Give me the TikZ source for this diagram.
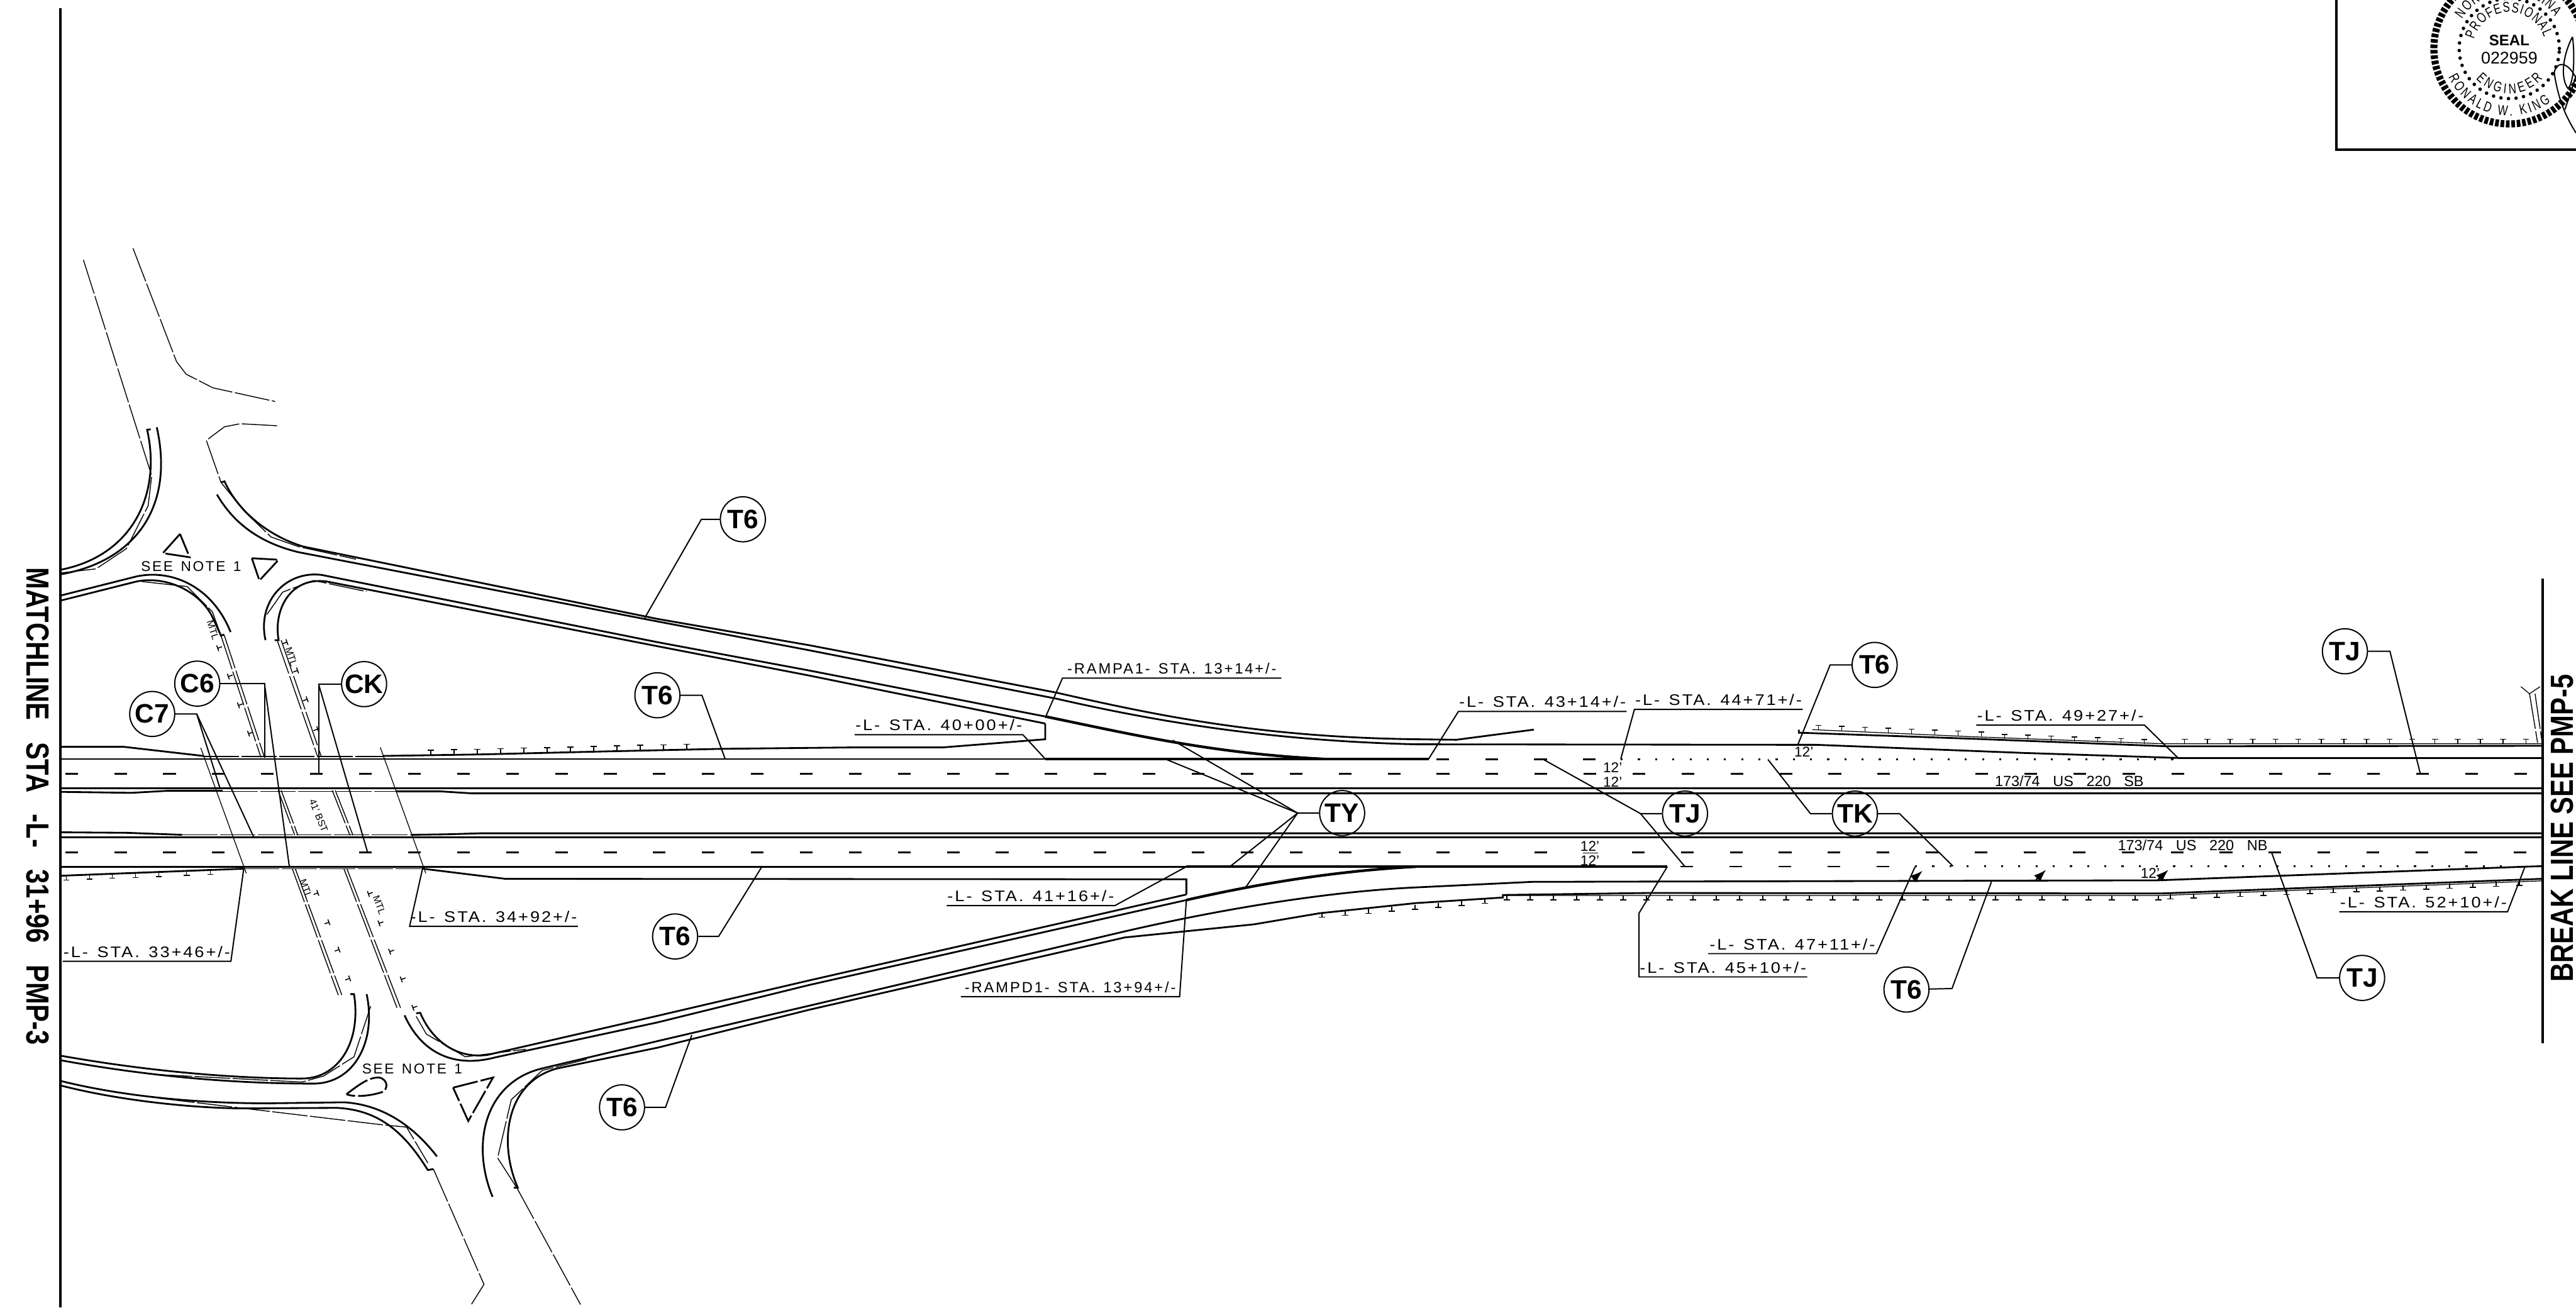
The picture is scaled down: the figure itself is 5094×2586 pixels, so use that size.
\documentclass[tikz,border=0pt]{standalone}
\usepackage{fontspec}
\usetikzlibrary{decorations.text,arrows.meta}
\setmainfont{Liberation Sans}
\newfontfamily\cadfont[LetterSpace=12,FakeStretch=1.12]{Liberation Sans}
\newfontfamily\rampfont[LetterSpace=12]{Liberation Sans}
\newfontfamily\sheetfont[FakeStretch=0.82]{Liberation Sans}
\newfontfamily\sealfont[FakeStretch=0.75]{Liberation Sans}
\newcommand{\cadgap}{\hspace{0.6em}}
\newcommand{\rampgap}{\hspace{0.55em}}
% one guard rail mark: x, y, angle
\newcommand{\railmark}[3]{\begin{scope}[shift={(#1,{#2})},rotate=#3]
  \draw[railstem] (0,0) -- (0,-9) (-6,-9) -- (6,-9);
\end{scope}}
\tikzset{
  roadedge/.style={line width=1pt},
  heavyedge/.style={line width=1.5pt},
  thinroad/.style={line width=0.5pt,dash pattern=on 0.7cm off 0.05cm},
  lanedash/.style={line width=0.9pt,dash pattern=on 0.25cm off 0.718cm},
  lanedots/.style={line width=0.9pt,dash pattern=on 0.04cm off 0.3cm},
  leader/.style={line width=0.7pt},
  railstem/.style={line width=0.55pt},
  crossline/.style={line width=0.45pt},
  bubble/.style={circle,draw,line width=0.7pt,minimum size=0.89cm,inner sep=0pt,font=\fontsize{15}{15}\selectfont\bfseries},
  stalabel/.style={anchor=south west,inner xsep=0pt,inner ysep=2pt,minimum width=3.31cm,font=\cadfont\fontsize{8.6}{8.6}\selectfont},
  ramplabel/.style={stalabel,minimum width=4.31cm,font=\rampfont\fontsize{8.4}{8.4}\selectfont},
  dimtext/.style={inner sep=0pt,font=\fontsize{8}{8}\selectfont},
  roadname/.style={inner sep=0pt,font=\fontsize{8.3}{8.3}\selectfont},
  mtltext/.style={inner sep=0pt,font=\fontsize{5.5}{5.5}\selectfont},
  notetext/.style={inner sep=0pt,font=\rampfont\fontsize{8}{8}\selectfont},
  sheettext/.style={inner sep=0pt,font=\sheetfont\fontsize{18}{18}\selectfont\bfseries},
  sealtext/.style={decorate,decoration={text along path,text align={fit to path},text={|\sealfont\fontsize{8}{8}\selectfont|#1}}},
  islandedge/.style={line width=1pt,dash pattern=on 0.5cm off 0.06cm},
}
\begin{document}
\begin{tikzpicture}[x=0.01cm,y=-0.01cm]
\useasboundingbox (0,0) rectangle (5094,2586);

% sheet frame
\draw[line width=1.3pt] (119,16) -- (119,2586);
\draw[line width=1.3pt] (5028,1144) -- (5028,2063);
\draw[line width=1.3pt] (4620,0) -- (4620,296) -- (5094,296);
\node[sheettext,rotate=-90] (matchline) at (74,1595) {MATCHLINE\hspace{0.45em} STA\hspace{0.45em} -L-\hspace{0.45em} 31+96\hspace{0.45em} PMP-3};
\node[sheettext,rotate=90] (breakline) at (5067,1638) {BREAK LINE SEE PMP-5};

% seal
\coordinate (sealc) at (4962,96);
\draw[line width=0.14cm,dash pattern=on 0.072cm off 0.035cm] (sealc) circle[radius=1.49cm];
\draw[line width=0.07cm,line cap=round,dash pattern=on 0pt off 0.15cm] (sealc) circle[radius=0.99cm];
\node[inner sep=0pt,font=\fontsize{8.5}{8.5}\selectfont\bfseries] (sealword) at (4962,80) {SEAL};
\node[inner sep=0pt,font=\fontsize{9.5}{9.5}\selectfont] (sealno) at (4962,115) {022959};
\path[sealtext={PROFESSIONAL}] (sealc) ++(165:0.72cm) arc[start angle=165,end angle=18,radius=0.72cm];
\path[sealtext={ENGINEER}] (sealc) ++(222:0.89cm) arc[start angle=222,end angle=318,radius=0.89cm];
\path[sealtext={RONALD W. KING}] (sealc) ++(205:1.33cm) arc[start angle=205,end angle=308,radius=1.33cm];
\path[sealtext={NORTH CAROLINA}] (sealc) ++(148:1.1cm) arc[start angle=148,end angle=35,radius=1.1cm];
% signature
\draw[leader] (5087,73) .. controls (5072,100) and (5060,150) .. (5078,175) .. controls (5090,165) and (5092,110) .. (5087,73);
\draw[leader] (5094,263) .. controls (5070,225) and (5058,190) .. (5051,145) .. controls (5052,125) and (5075,115) .. (5094,155);
\draw[leader] (5072,217) -- (5094,150);

% mainline
\draw[roadedge] (119,1501) -- (2067,1501);
\draw[heavyedge] (2067,1501) -- (2825,1501);
\draw[roadedge] (4307,1499) -- (5028,1499);
\draw[roadedge] (119,1714) -- (2346,1714);
\draw[heavyedge] (2346,1714) -- (3297,1714);
\draw[roadedge] (119,1559) -- (5028,1559);
\draw[roadedge] (119,1656) -- (5028,1656);
\draw[roadedge] (119,1566) -- (260,1568) -- (330,1564) -- (440,1564);
\draw[thinroad] (440,1565) -- (783,1565);
\draw[roadedge] (783,1565) -- (870,1565) -- (933,1569) -- (5028,1569);
\draw[roadedge] (119,1646) -- (250,1647) -- (360,1651);
\draw[thinroad] (360,1651) -- (813,1651);
\draw[roadedge] (813,1651) -- (883,1650) -- (950,1648) -- (5028,1648);
\draw[lanedash] (129,1530) -- (5000,1530);
\draw[lanedash] (129,1686) -- (3120,1686);
\draw[lanedash] (3227,1686) -- (5000,1686);
\draw[lanedash] (2840,1502) -- (3160,1502);
\draw[lanedash] (3323,1714) -- (3740,1714);
\draw[lanedots] (3205,1502) -- (4300,1502);
\draw[lanedots] (3787,1713) -- (4950,1713);

% shoulders
\draw[roadedge] (119,1477) -- (245,1477) -- (402,1495);
\draw[thinroad] (402,1496) -- (758,1496);
\draw[roadedge] (758,1495) -- (950,1492) -- (1200,1486) -- (1425,1481) -- (1700,1478) -- (1866,1478) -- (2067,1462) -- (2067,1431);
\draw[roadedge] (119,1732) -- (482,1718);
\draw[thinroad] (482,1718) -- (836,1718);
\draw[roadedge] (836,1718) -- (999,1738) -- (2346,1739) -- (2346,1769);
\foreach \x in {852,898,...,1360} {\railmark{\x}{1495-(\x-758)*0.0235}{0}}
\foreach \x in {131,177,222,268,314,369,416} {\railmark{\x}{1732-(\x-119)*0.0386}{180}}

% ramp a
\draw[thinroad] (263,491) -- (349,715) -- (368,740) -- (421,767) -- (544,794);
\draw[thinroad] (548,842) -- (475,838) -- (444,844) -- (408,871) -- (437,954) -- (483,1011) -- (536,1062) -- (590,1081) -- (704,1106);
\draw[roadedge] (437,954) -- (444,952) .. controls (470,1010) and (530,1060) .. (600,1081) -- (1300,1224) -- (1600,1276) -- (2090,1370) .. controls (2300,1418) and (2500,1458) .. (2800,1462) -- (2880,1463) -- (3033,1443);
\draw[roadedge] (429,978) .. controls (465,1040) and (520,1075) .. (590,1092) -- (1300,1229) -- (1600,1286) -- (2090,1382) .. controls (2300,1430) and (2520,1465) .. (2800,1472) -- (3592,1473) -- (4000,1489) -- (4307,1499);
\draw[roadedge] (525,1266) .. controls (508,1190) and (565,1128) .. (636,1137) -- (1300,1270) -- (1600,1326) -- (2067,1417);
\draw[heavyedge] (2067,1417) .. controls (2250,1455) and (2400,1490) .. (2618,1501);
\draw[roadedge] (543,1266) -- (551,1266) .. controls (540,1205) and (575,1140) .. (646,1150) -- (1300,1278) -- (1600,1336) -- (2067,1431);
\draw[thinroad] (528,1215) -- (559,1171) -- (620,1148) -- (725,1170);

% side road north
\draw[thinroad] (165,514) -- (300,941) -- (293,1000) -- (250,1085) -- (190,1125) -- (121,1133);
\draw[roadedge] (298,849) -- (291,850) .. controls (320,980) and (260,1100) .. (119,1127);
\draw[roadedge] (310,845) .. controls (345,1000) and (270,1110) .. (119,1136);
\draw[roadedge] (119,1178) -- (270,1140) .. controls (340,1125) and (420,1160) .. (456,1250);
\draw[roadedge] (119,1188) -- (270,1150) .. controls (330,1138) and (395,1170) .. (420,1220) -- (437,1257) -- (443,1255);
\draw[thinroad] (280,1150) -- (370,1160) -- (420,1210) -- (437,1257);
\draw[thinroad] (443,1255) -- (523,1498);
\draw[thinroad] (437,1257) -- (516,1498);
\draw[thinroad] (548,1266) -- (628,1496);
\draw[thinroad] (556,1266) -- (635,1495);
\draw[islandedge] (356,1056) -- (322,1094) -- (375,1102) -- cycle;
\draw[islandedge] (498,1104) -- (551,1107) -- (513,1148) -- cycle;
\node[notetext] (notenorth) at (378,1120) {SEE\rampgap NOTE\rampgap 1};
\railmark{439}{1279}{110}
\railmark{460}{1335}{110}
\railmark{480}{1392}{110}
\railmark{500}{1448}{110}
\railmark{559}{1273}{-70}
\railmark{580}{1329}{-70}
\railmark{599}{1386}{-70}
\railmark{620}{1445}{-70}
\node[mtltext,rotate=-72] (mtlnw) at (421,1246) {MTL};
\node[mtltext,rotate=-72] (mtlne) at (576,1299) {MTL};

% median crossing
\draw[thinroad] (550,1563) -- (583,1652);
\draw[thinroad] (556,1563) -- (589,1652);
\draw[thinroad] (657,1563) -- (692,1652);
\draw[thinroad] (663,1563) -- (698,1652);
\node[mtltext,rotate=-68] (bstlabel) at (630,1613) {41' BST};
\draw[crossline] (397,1479) -- (487,1727);
\draw[crossline] (752,1478) -- (842,1727);

% side road south
\draw[thinroad] (578,1718) -- (669,1968);
\draw[thinroad] (584,1718) -- (676,1968);
\draw[thinroad] (680,1718) -- (785,1993);
\draw[thinroad] (686,1718) -- (792,1993);
\railmark{620}{1769}{-70}
\railmark{642}{1827}{-70}
\railmark{662}{1881}{-70}
\railmark{683}{1938}{-70}
\railmark{737}{1765}{110}
\railmark{758}{1823}{110}
\railmark{779}{1879}{110}
\railmark{802}{1934}{110}
\railmark{825}{1990}{110}
\node[mtltext,rotate=-70] (mtlsw) at (605,1758) {MTL};
\node[mtltext,rotate=-70] (mtlse) at (750,1790) {MTL};
\draw[roadedge] (693,1966) -- (700,1966) .. controls (715,2060) and (670,2133) .. (597,2133) .. controls (500,2133) and (330,2125) .. (121,2088);
\draw[roadedge] (725,1966) .. controls (745,2060) and (700,2143) .. (620,2143) .. controls (500,2143) and (330,2135) .. (121,2097);
\draw[roadedge] (121,2138) .. controls (250,2170) and (400,2182) .. (528,2182) -- (681,2180) .. controls (760,2185) and (820,2230) .. (864,2287);
\draw[roadedge] (121,2147) .. controls (250,2180) and (400,2192) .. (483,2192) -- (666,2191) .. controls (750,2195) and (800,2240) .. (846,2314) -- (857,2312);
\draw[thinroad] (315,2172) -- (483,2192) -- (760,2225) -- (804,2229) -- (846,2300);
\draw[thinroad] (310,2125) -- (597,2140) -- (640,2128) -- (700,2090) -- (733,1990);
\draw[thinroad] (857,2312) -- (957,2540) -- (932,2580);
\draw[thinroad] (1022,2349) -- (1148,2580);
\draw[islandedge] (685,2164) .. controls (710,2145) and (730,2130) .. (750,2131) .. controls (768,2135) and (768,2155) .. (755,2160) .. controls (730,2168) and (700,2170) .. (685,2164) -- cycle;
\draw[islandedge] (896,2151) -- (975,2131) -- (926,2217) -- cycle;
\node[notetext] (notesouth) at (815,2114) {SEE\rampgap NOTE\rampgap 1};

% ramp d
\draw[roadedge] (823,2004) -- (831,2003) .. controls (855,2060) and (905,2095) .. (965,2086) -- (1300,2009) -- (1600,1939) -- (2346,1769);
\draw[roadedge] (800,2008) .. controls (830,2075) and (890,2115) .. (980,2091) -- (1300,2022) -- (1600,1948) -- (2346,1780);
\draw[heavyedge] (2346,1780) .. controls (2500,1745) and (2650,1722) .. (2800,1714);
\draw[thinroad] (823,2010) -- (843,2045) -- (920,2090) -- (1040,2075);
\draw[roadedge] (974,2367) .. controls (930,2260) and (960,2140) .. (1072,2113) -- (1300,2059) -- (1600,1989) -- (2224,1842) .. controls (2450,1790) and (2650,1762) .. (2800,1755) -- (3030,1744) -- (4266,1741) -- (4993,1714) -- (5028,1713);
\draw[roadedge] (1016,2349) -- (1024,2349) .. controls (985,2260) and (1000,2140) .. (1102,2113) -- (1300,2072) -- (1600,1997) -- (2224,1854) -- (2480,1828) -- (2610,1806) -- (2800,1786) -- (2972,1775) -- (2972,1770) -- (3259,1766) -- (4273,1767) -- (5027,1738);
\draw[thinroad] (1022,2349) -- (984,2290) -- (1011,2175) -- (1072,2117) -- (1160,2095);
\draw[crossline] (2972,1771) -- (4273,1771) -- (5027,1742);

% rail marks east
\foreach \x in {2614,2660,...,2970} {\railmark{\x}{1805-(\x-2614)*0.085}{180}}
\foreach \x in {2980,3026,...,4270} {\railmark{\x}{1771}{180}}
\foreach \x in {4292,4338,...,5020} {\railmark{\x}{1769-(\x-4292)*0.0386}{180}}
\draw[roadedge] (3557,1443) -- (3557,1449) -- (3900,1461) -- (4288,1476) -- (5028,1475);
\draw[crossline] (3584,1443) -- (3900,1457) -- (4281,1471) -- (5028,1471);
\foreach \x in {3596,3642,...,3920} {\railmark{\x}{1443+(\x-3584)*0.041}{0}}
\foreach \x in {3964,4010,...,4280} {\railmark{\x}{1459+(\x-3900)*0.0365}{0}}
\foreach \x in {4320,4365,...,5010} {\railmark{\x}{1471}{0}}
\draw[crossline] (4985,1358) -- (5002,1372) -- (5023,1358);
\draw[thinroad] (5002,1372) -- (5018,1469);
\draw[thinroad] (5013,1372) -- (5027,1469);

% dimensions and traffic arrows
\node[dimtext] (wsb) at (3189,1518) {12'};
\node[dimtext] (wsc) at (3189,1546) {12'};
\node[dimtext] (wnb) at (3144,1673) {12'};
\node[dimtext] (wnc) at (3144,1702) {12'};
\draw[line width=0.7pt] (3130,1687) -- (3160,1687);
\node[dimtext] (wsd) at (3567,1487) {12'};
\node[dimtext] (wne) at (4252,1727) {12'};
\node[roadname] (roadsb) at (4092,1545) {173/74\hspace{0.6em} US\hspace{0.6em} 220\hspace{0.6em} SB};
\node[roadname] (roadnb) at (4336,1672) {173/74\hspace{0.6em} US\hspace{0.6em} 220\hspace{0.6em} NB};
\coordinate (arwa) at (3783,1739);
\coordinate (arwb) at (3802,1722);
\coordinate (arwc) at (4026,1740);
\coordinate (arwd) at (4046,1720);
\coordinate (arwe) at (4267,1740);
\coordinate (arwf) at (4288,1720);
\draw[-{Latex[length=7pt,width=5pt]},line width=0.8pt] (arwa) -- (arwb);
\draw[-{Latex[length=7pt,width=5pt]},line width=0.8pt] (arwc) -- (arwd);
\draw[-{Latex[length=7pt,width=5pt]},line width=0.8pt] (arwe) -- (arwf);

% callouts
\node[bubble] (t6a) at (1469,1027) {T6};
\node[bubble] (t6b) at (1300,1375) {T6};
\node[bubble] (t6c) at (1335,1852) {T6};
\node[bubble] (t6d) at (1230,2190) {T6};
\node[bubble] (t6e) at (3707,1315) {T6};
\node[bubble] (t6f) at (3770,1957) {T6};
\node[bubble] (c6) at (390,1352) {C6};
\node[bubble] (c7) at (301,1412) {C7};
\node[bubble] (ck) at (720,1353) {CK};
\node[bubble] (ty) at (2654,1608) {TY};
\node[bubble] (tja) at (3332,1609) {TJ};
\node[bubble] (tk) at (3668,1609) {TK};
\node[bubble] (tjb) at (4637,1288) {TJ};
\node[bubble] (tjc) at (4671,1934) {TJ};
\draw[leader] (t6a) -- (1387,1027) -- (1275,1222);
\draw[leader] (t6b) -- (1388,1375) -- (1434,1501);
\draw[leader] (t6c) -- (1421,1852) -- (1506,1715);
\draw[leader] (t6d) -- (1316,2190) -- (1368,2047);
\draw[leader] (t6e) -- (3619,1315) -- (3555,1473);
\draw[leader] (t6f) -- (3860,1955) -- (3938,1744);
\draw[leader] (c6) -- (523,1352) -- (523,1499);
\draw[leader] (523,1352) -- (572,1713);
\draw[leader] (c7) -- (389,1412) -- (435,1559);
\draw[leader] (389,1412) -- (502,1656);
\draw[leader] (ck) -- (630,1353) -- (630,1530);
\draw[leader] (630,1353) -- (727,1686);
\draw[leader] (ty) -- (2566,1608) -- (2319,1464);
\draw[leader] (2566,1608) -- (2304,1501);
\draw[leader] (2566,1608) -- (2432,1714);
\draw[leader] (2566,1608) -- (2461,1758);
\draw[leader] (tja) -- (3244,1609) -- (3052,1502);
\draw[leader] (3244,1609) -- (3332,1714);
\draw[leader] (tk) -- (3580,1609) -- (3496,1502);
\draw[leader] (tk) -- (3756,1609) -- (3862,1713);
\draw[leader] (tjb) -- (4726,1288) -- (4786,1530);
\draw[leader] (tjc) -- (4582,1934) -- (4492,1686);

% station labels
\node[stalabel] (sta3346) at (124,1901) {-L-\cadgap STA.\cadgap 33+46+/-};
\node[stalabel] (sta3492) at (810,1832) {-L-\cadgap STA.\cadgap 34+92+/-};
\node[stalabel] (sta4000) at (1690,1453) {-L-\cadgap STA.\cadgap 40+00+/-};
\node[ramplabel] (stara1) at (2101,1341) {-RAMPA1-\rampgap STA.\rampgap 13+14+/-};
\node[stalabel] (sta4116) at (1872,1791) {-L-\cadgap STA.\cadgap 41+16+/-};
\node[ramplabel] (stard1) at (1900,1971) {-RAMPD1-\rampgap STA.\rampgap 13+94+/-};
\node[stalabel] (sta4314) at (2884,1407) {-L-\cadgap STA.\cadgap 43+14+/-};
\node[stalabel] (sta4471) at (3232,1403) {-L-\cadgap STA.\cadgap 44+71+/-};
\node[stalabel] (sta4510) at (3241,1932) {-L-\cadgap STA.\cadgap 45+10+/-};
\node[stalabel] (sta4711) at (3378,1886) {-L-\cadgap STA.\cadgap 47+11+/-};
\node[stalabel] (sta4927) at (3908,1434) {-L-\cadgap STA.\cadgap 49+27+/-};
\node[stalabel] (sta5210) at (4626,1803) {-L-\cadgap STA.\cadgap 52+10+/-};
\draw[leader] (sta3346.south west) -- (sta3346.south east) -- (482,1718);
\draw[leader] (sta3492.south east) -- (sta3492.south west) -- (836,1716);
\draw[leader] (sta4000.south west) -- (sta4000.south east) -- (2067,1501);
\draw[leader] (stara1.south east) -- (stara1.south west) -- (2068,1417);
\draw[leader] (sta4116.south west) -- (sta4116.south east) -- (2346,1714);
\draw[leader] (stard1.south west) -- (stard1.south east) -- (2346,1780);
\draw[leader] (sta4314.south east) -- (sta4314.south west) -- (2825,1501);
\draw[leader] (sta4471.south east) -- (sta4471.south west) -- (3205,1501);
\draw[leader] (sta4510.south east) -- (sta4510.south west) -- (3241,1806) -- (3297,1714);
\draw[leader] (sta4711.south west) -- (sta4711.south east) -- (3787,1714);
\draw[leader] (sta4927.south west) -- (sta4927.south east) -- (4307,1499);
\draw[leader] (sta5210.south west) -- (sta5210.south east) -- (4993,1714);
\end{tikzpicture}
\end{document}
